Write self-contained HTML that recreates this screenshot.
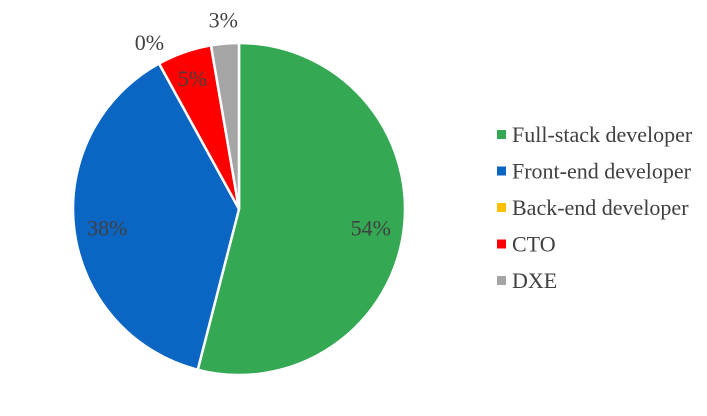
<!DOCTYPE html>
<html><head><meta charset="utf-8"><style>
html,body{margin:0;padding:0;background:#fff;}
svg{display:block;font-family:"Liberation Serif",serif;}
</style></head><body>
<svg id="chart" width="707" height="416"></svg>
<script>
const categories = ["Full-stack developer","Front-end developer","Back-end developer","CTO","DXE"];
const values = [54.0, 38.0, 0.0, 5.3, 2.7];
const labels = ["54%","38%","0%","5%","3%"];
const colors = ["#34A853","#0B65C2","#FFC000","#FF0000","#A5A5A5"];
const svg = document.getElementById('chart');
const NS = 'http://www.w3.org/2000/svg';
const cx = 239, cy = 209, r = 166;
const total = values.reduce((a,b)=>a+b,0);
function pt(angDeg, rad){const a=angDeg*Math.PI/180;return [cx+rad*Math.sin(a), cy-rad*Math.cos(a)];}
let start = 0;
values.forEach((v,i)=>{
  const sweep = v/total*360;
  const end = start + sweep;
  if (sweep > 0) {
    const [x1,y1]=pt(start,r),[x2,y2]=pt(end,r);
    const p=document.createElementNS(NS,'path');
    p.setAttribute('d',`M${cx},${cy} L${x1},${y1} A${r},${r} 0 ${sweep>180?1:0} 1 ${x2},${y2} Z`);
    p.setAttribute('fill',colors[i]);
    p.setAttribute('stroke','#fff');
    p.setAttribute('stroke-width','2.5');
    
    
    svg.appendChild(p);
  }
  const mid = start + sweep/2;
  const rr = v < 4 ? r*1.12 : (v < 10 ? r*0.85 : r*0.8);
  const [lx,ly] = pt(mid, rr);
  const t=document.createElementNS(NS,'text');
  t.setAttribute('x',lx); t.setAttribute('y',ly+(v<4?4:10));
  t.setAttribute('text-anchor','middle');
  t.setAttribute('font-size','22');
  t.setAttribute('fill','#404040');
  t.textContent = labels[i];
  
  
  svg.appendChild(t);
  start = end;
});
categories.forEach((c,i)=>{
  const y = 135 + i*36.5;
  const g=document.createElementNS(NS,'g');
  
  
  const rc=document.createElementNS(NS,'rect');
  rc.setAttribute('x',497); rc.setAttribute('y',y-5); rc.setAttribute('width',9); rc.setAttribute('height',9);
  rc.setAttribute('fill',colors[i]);
  g.appendChild(rc);
  const t=document.createElementNS(NS,'text');
  t.setAttribute('x',512); t.setAttribute('y',y+7);
  t.setAttribute('font-size','22'); t.setAttribute('fill','#404040');
  t.textContent=c;
  g.appendChild(t);
  svg.appendChild(g);
});
</script>
</body></html>
